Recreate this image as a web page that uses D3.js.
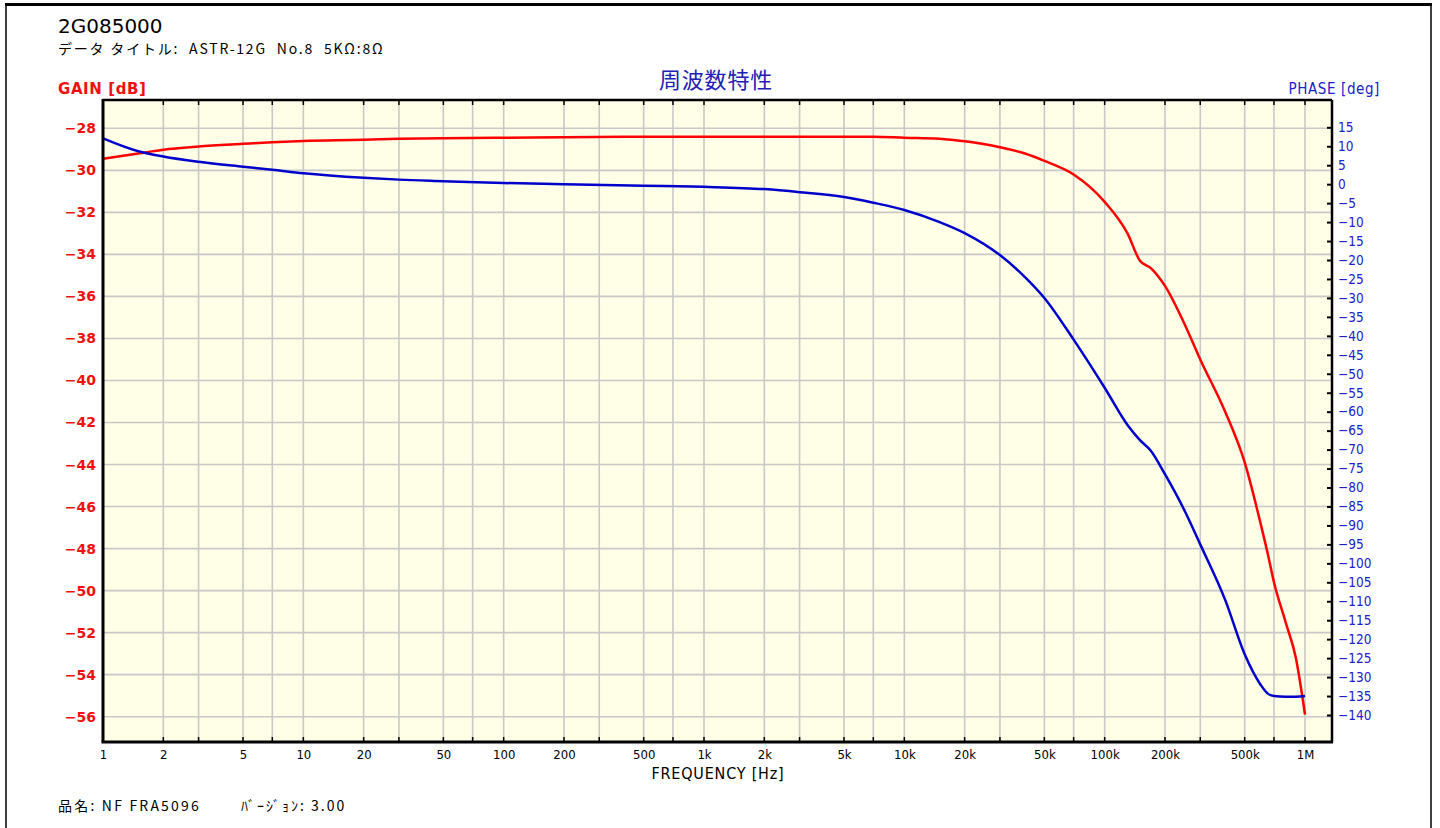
<!DOCTYPE html>
<html>
<head>
<meta charset="utf-8">
<script src="https://cdn.jsdelivr.net/npm/d3@7"></script>
<style>
  html, body { margin: 0; padding: 0; background: #fff; }
  svg { display: block; }
</style>
</head>
<body>
<svg id="chart"></svg>
<script>
// measured data
const freqs = [1, 1.5, 2, 3, 5, 7, 10, 20, 30, 50, 100, 200, 500, 1000, 2000, 3000, 5000, 7000,
  10000, 15000, 20000, 30000, 40000, 50000, 70000, 100000, 130000, 150000, 170000, 200000,
  250000, 300000, 400000, 500000, 600000, 650000, 700000, 800000, 900000, 1000000];
const gainDb = [-29.45, -29.2, -29.02, -28.87, -28.74, -28.66, -28.6, -28.55, -28.5, -28.47,
  -28.45, -28.42, -28.4, -28.4, -28.4, -28.4, -28.4, -28.4, -28.45, -28.5, -28.62, -28.9,
  -29.2, -29.55, -30.2, -31.5, -33.0, -34.3, -34.65, -35.5, -37.3, -39.0, -41.5, -43.9,
  -46.8, -48.2, -49.6, -51.5, -53.2, -55.9];
const phaseDeg = [12.1, 8.7, 7.3, 5.9, 4.6, 3.8, 2.9, 1.7, 1.2, 0.8, 0.3, 0.0, -0.4, -0.7,
  -1.3, -2.1, -3.4, -4.9, -6.8, -10.0, -12.9, -18.7, -24.5, -30.0, -41.0, -53.7, -63.5,
  -67.5, -70.3, -76.5, -86, -95, -109.7, -124, -132, -134.3, -135, -135.2, -135.2, -135.0];

// axis ticks
const gainTicks = d3.range(-28, -57, -2);
const phaseTicks = d3.range(15, -141, -5);
const freqGrid = [2, 3, 5, 7, 10, 20, 30, 50, 70, 100, 200, 300, 500, 700, 1e3, 2e3, 3e3, 5e3, 7e3,
  1e4, 2e4, 3e4, 5e4, 7e4, 1e5, 2e5, 3e5, 5e5, 7e5, 1e6];
const freqLabels = [1, 2, 5, 10, 20, 50, 100, 200, 500, 1e3, 2e3, 5e3, 1e4, 2e4, 5e4, 1e5, 2e5, 5e5, 1e6];

const W = 1440, H = 828;
const plot = { left: 103, top: 100, right: 1332, bottom: 742 };

const svg = d3.select("#chart").attr("width", W).attr("height", H);

svg.append("rect").attr("width", W).attr("height", H).attr("fill", "#fff");

// outer frame
svg.append("line").attr("x1", 5).attr("x2", 1432).attr("y1", 4.5).attr("y2", 4.5)
  .attr("stroke", "#000").attr("stroke-width", 3);
svg.append("line").attr("x1", 6).attr("x2", 6).attr("y1", 3).attr("y2", H)
  .attr("stroke", "#000").attr("stroke-width", 1.5);
svg.append("line").attr("x1", 1431).attr("x2", 1431).attr("y1", 3).attr("y2", H)
  .attr("stroke", "#000").attr("stroke-width", 1.5);

// scales
const x = d3.scaleLog().domain([1, 1e6]).range([103, 1305]);
const yGain = d3.scaleLinear().domain([-56, -28]).range([716.7, 128.3]);
const yPhase = d3.scaleLinear().domain([-140, 15]).range([715, 127.3]);

const fmtFreq = (f) => f >= 1e6 ? (f / 1e6) + "M" : f >= 1e3 ? (f / 1e3) + "k" : String(f);

// plot background
svg.append("rect")
  .attr("x", plot.left).attr("y", plot.top)
  .attr("width", plot.right - plot.left).attr("height", plot.bottom - plot.top)
  .attr("fill", "#FFFEE6");

// grid
svg.append("g").selectAll("line").data(freqGrid).enter().append("line")
  .attr("x1", d => x(d)).attr("x2", d => x(d))
  .attr("y1", plot.top).attr("y2", plot.bottom)
  .attr("stroke", "#C8C8C8").attr("stroke-width", 1.6);
svg.append("g").selectAll("line").data(gainTicks).enter().append("line")
  .attr("x1", plot.left).attr("x2", plot.right)
  .attr("y1", d => yGain(d)).attr("y2", d => yGain(d))
  .attr("stroke", "#C8C8C8").attr("stroke-width", 1.6);

// curves
const pts = freqs.map((f, i) => ({ f: f, g: gainDb[i], p: phaseDeg[i] }));

svg.append("path").datum(pts)
  .attr("fill", "none").attr("stroke", "#FF0000").attr("stroke-width", 2.5)
  .attr("d", d3.line().x(d => x(d.f)).y(d => yGain(d.g)).curve(d3.curveMonotoneX));

svg.append("path").datum(pts)
  .attr("fill", "none").attr("stroke", "#0000CC").attr("stroke-width", 2.5)
  .attr("d", d3.line().x(d => x(d.f)).y(d => yPhase(d.p)).curve(d3.curveMonotoneX));

// inner tick marks top / bottom
svg.append("g").selectAll("line").data(freqGrid).enter().append("line")
  .attr("x1", d => x(d)).attr("x2", d => x(d))
  .attr("y1", plot.top).attr("y2", plot.top + 5)
  .attr("stroke", "#000").attr("stroke-width", 1.5);
svg.append("g").selectAll("line").data(freqGrid).enter().append("line")
  .attr("x1", d => x(d)).attr("x2", d => x(d))
  .attr("y1", plot.bottom - 5).attr("y2", plot.bottom)
  .attr("stroke", "#000").attr("stroke-width", 1.5);

// plot frame
svg.append("line").attr("x1", plot.left).attr("x2", plot.right).attr("y1", plot.top).attr("y2", plot.top)
  .attr("stroke", "#000").attr("stroke-width", 2.5);
svg.append("line").attr("x1", plot.right).attr("x2", plot.right).attr("y1", plot.top).attr("y2", plot.bottom)
  .attr("stroke", "#000").attr("stroke-width", 2.5);

// bottom axis
const xAxis = d3.axisBottom(x).tickValues(freqLabels).tickFormat(fmtFreq).tickSize(0).tickPadding(8);
const gx = svg.append("g").attr("transform", `translate(0,${plot.bottom})`).call(xAxis);
gx.select(".domain").attr("stroke", "#000").attr("stroke-width", 3)
  .attr("d", `M${plot.left - 1.5},0H${plot.right + 1}`);
gx.selectAll("text")
  .style("font-family", "'DejaVu Sans Condensed', 'DejaVu Sans', sans-serif")
  .style("font-size", "13px").attr("fill", "#000");

// left axis (gain)
const yAxisL = d3.axisLeft(yGain).tickValues(gainTicks).tickFormat(d3.format("d")).tickSize(0).tickPadding(7);
const gl = svg.append("g").attr("transform", `translate(${plot.left},0)`).call(yAxisL);
gl.select(".domain").attr("stroke", "#000").attr("stroke-width", 3)
  .attr("d", `M0,${plot.top - 1}V${plot.bottom}`);
gl.selectAll("text")
  .style("font-family", "'DejaVu Sans', sans-serif").style("font-weight", "bold")
  .style("font-size", "14px").attr("fill", "#F01010");

// right axis (phase)
const yAxisR = d3.axisRight(yPhase).tickValues(phaseTicks).tickFormat(d3.format("d")).tickSize(-5).tickPadding(6);
const gr = svg.append("g").attr("transform", `translate(${plot.right},0)`).call(yAxisR);
gr.select(".domain").remove();
gr.selectAll("line").attr("stroke", "#000").attr("stroke-width", 2);
gr.selectAll("text")
  .style("font-family", "'DejaVu Sans Condensed', 'DejaVu Sans', sans-serif")
  .style("font-size", "13.5px").attr("fill", "#2020C8");

// texts
svg.append("text").attr("x", 58).attr("y", 33)
  .style("font-family", "'DejaVu Sans', sans-serif").style("font-size", "20px")
  .attr("fill", "#000").text("2G085000");
svg.append("text").attr("x", 58).attr("y", 54)
  .style("font-family", "'Noto Sans CJK JP', sans-serif").style("font-size", "14px")
  .style("white-space", "pre").style("letter-spacing", "1.8px")
  .attr("fill", "#000").text("データ タイトル:  ASTR-12G  No.8  5KΩ:8Ω");
svg.append("text").attr("x", 58).attr("y", 94)
  .style("font-family", "'DejaVu Sans', sans-serif").style("font-size", "15px").style("font-weight", "bold")
  .style("letter-spacing", "0.6px")
  .attr("fill", "#F01010").text("GAIN [dB]");
svg.append("text").attr("x", 1380).attr("y", 94).attr("text-anchor", "end")
  .style("font-family", "'DejaVu Sans Condensed', 'DejaVu Sans', sans-serif").style("font-size", "15px")
  .style("letter-spacing", "0.6px")
  .attr("fill", "#2020C8").text("PHASE [deg]");
svg.append("text").attr("x", 716).attr("y", 88).attr("text-anchor", "middle")
  .style("font-family", "'Noto Sans CJK JP', sans-serif").style("font-size", "22px")
  .style("letter-spacing", "0.8px")
  .attr("fill", "#2020B8").text("周波数特性");
svg.append("text").attr("x", 718).attr("y", 779).attr("text-anchor", "middle")
  .style("font-family", "'DejaVu Sans Condensed', 'DejaVu Sans', sans-serif").style("font-size", "16px")
  .style("letter-spacing", "0.8px")
  .attr("fill", "#000").text("FREQUENCY [Hz]");
svg.append("text").attr("x", 58).attr("y", 811)
  .style("font-family", "'Noto Sans CJK JP', sans-serif").style("font-size", "14px")
  .style("letter-spacing", "2.2px")
  .attr("fill", "#000").text("品名: NF FRA5096");
svg.append("text").attr("x", 241).attr("y", 811)
  .style("font-family", "'Noto Sans CJK JP', sans-serif").style("font-size", "14px")
  .style("letter-spacing", "2px")
  .attr("fill", "#000").text("ﾊﾞｰｼﾞｮﾝ: 3.00");
</script>
</body>
</html>
